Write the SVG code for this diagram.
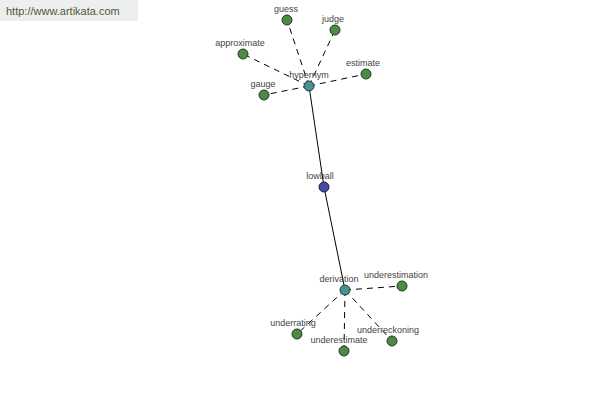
<svg xmlns="http://www.w3.org/2000/svg" width="600" height="400" viewBox="0 0 600 400">
<style>
.d{stroke:#000;stroke-width:1;stroke-dasharray:6,5;fill:none}
.s{stroke:#000;stroke-width:1;fill:none}
.leaf{fill:#4e8a46;stroke:#1e3a1e;stroke-width:1}
.hub{fill:#4a9090;stroke:#1e3a3a;stroke-width:1}
.main{fill:#4a4aa0;stroke:#1e1e4a;stroke-width:1}
text{font-family:"Liberation Sans",Arial,sans-serif;font-size:9px;fill:#444;text-anchor:middle}
</style>
<rect x="0" y="0" width="138" height="21" fill="#eeeeee"/>
<text x="6" y="15" style="text-anchor:start;font-size:11px;fill:#4a5a3a">http://www.artikata.com</text>
<g id="connectors">
<line class="d" x1="309" y1="86" x2="287" y2="20"/>
<line class="d" x1="309" y1="86" x2="335" y2="30"/>
<line class="d" x1="309" y1="86" x2="243" y2="54"/>
<line class="d" x1="309" y1="86" x2="366" y2="74"/>
<line class="d" x1="309" y1="86" x2="264" y2="95"/>
<line class="s" x1="309" y1="86" x2="324" y2="187"/>
<line class="s" x1="324" y1="187" x2="345" y2="290"/>
<line class="d" x1="345" y1="290" x2="402" y2="286"/>
<line class="d" x1="345" y1="290" x2="297" y2="334"/>
<line class="d" x1="345" y1="290" x2="344" y2="351"/>
<line class="d" x1="345" y1="290" x2="392" y2="341"/>
</g>
<g id="guess"><circle class="leaf" cx="287" cy="20" r="5"/><text x="286" y="12">guess</text></g>
<g id="judge"><circle class="leaf" cx="335" cy="30" r="5"/><text x="333" y="22">judge</text></g>
<g id="approximate"><circle class="leaf" cx="243" cy="54" r="5"/><text x="240" y="46">approximate</text></g>
<g id="estimate"><circle class="leaf" cx="366" cy="74" r="5"/><text x="363" y="66">estimate</text></g>
<g id="gauge"><circle class="leaf" cx="264" cy="95" r="5"/><text x="263" y="87">gauge</text></g>
<g id="hypernym"><circle class="hub" cx="309" cy="86" r="5"/><text x="309" y="78">hypernym</text></g>
<g id="lowball"><circle class="main" cx="324" cy="187" r="5"/><text x="320" y="179">lowball</text></g>
<g id="derivation"><circle class="hub" cx="345" cy="290" r="5"/><text x="339" y="282">derivation</text></g>
<g id="underestimation"><circle class="leaf" cx="402" cy="286" r="5"/><text x="396" y="278">underestimation</text></g>
<g id="underrating"><circle class="leaf" cx="297" cy="334" r="5"/><text x="293" y="326">underrating</text></g>
<g id="underestimate"><circle class="leaf" cx="344" cy="351" r="5"/><text x="339" y="343">underestimate</text></g>
<g id="underreckoning"><circle class="leaf" cx="392" cy="341" r="5"/><text x="388" y="333">underreckoning</text></g>
</svg>
